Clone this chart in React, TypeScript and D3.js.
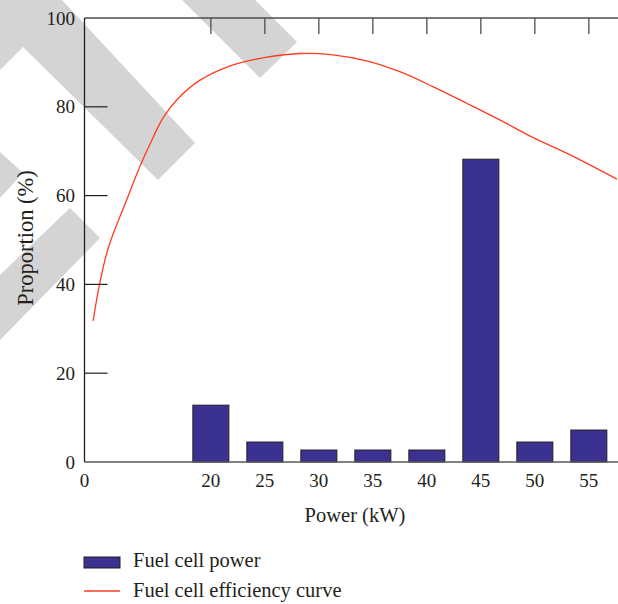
import React from "react";
import * as d3 from "d3";

// bar data: share of operating time at each power level
const powerLevels = [20, 25, 30, 35, 40, 45, 50, 55];
const powerShare = [12.8, 4.5, 2.7, 2.7, 2.7, 68.2, 4.5, 7.2];

// efficiency curve
const curvePower = [9.1, 9.7, 10.5, 12.2, 13.4, 14.4, 15.6, 16.9, 19.0, 22.0, 25.2, 28.3, 31.3, 34.5, 37.5, 40.6, 43.7, 46.8, 49.8, 53.0, 57.6];
const curveEff = [31.8, 40.1, 48.2, 59.0, 66.4, 71.8, 77.6, 81.7, 86.0, 89.4, 91.2, 92.0, 91.7, 90.3, 87.9, 84.5, 80.8, 77.0, 73.1, 69.5, 63.7];

const yTicks = [0, 20, 40, 60, 80, 100];

const W = 618;
const H = 604;
const left = 84.5;
const right = 618;
const top = 18;
const bottom = 462;

const font = "Liberation Serif";
const ink = "#231f20";

export default function App() {
  const x = d3.scaleLinear().domain([8.3, 57.7]).range([left, right]);
  const y = d3.scaleLinear().domain([0, 100]).range([bottom, top]);
  const halfBar = 1.667;

  const pts = curvePower.map((p, i) => [p, curveEff[i]] as [number, number]);
  const line = d3
    .line<[number, number]>()
    .x((d) => x(d[0]))
    .y((d) => y(d[1]))
    .curve(d3.curveCatmullRom.alpha(0.5));

  // watermark stripes behind the plot
  const marks = [
    "M0,0 L62,0 L195,143 L158,180 L23,47 L0,70 Z",
    "M182,0 L255,0 L297,42 L260,78 Z",
    "M70,208 L100,238 L0,340 L0,275 Z",
    "M0,152 L23,173 L0,198 Z",
  ];

  return (
    <svg
      width={W}
      height={H}
      style={{ position: "absolute", left: 0, top: 0, background: "#fff" }}
    >
      {marks.map((d, i) => (
        <path key={i} d={d} fill="#d4d4d4" />
      ))}

      {powerLevels.map((p, i) => (
        <rect
          key={p}
          x={x(p - halfBar)}
          y={y(powerShare[i])}
          width={x(p + halfBar) - x(p - halfBar)}
          height={y(0) - y(powerShare[i])}
          fill="#3a3190"
          stroke={ink}
          strokeWidth={1}
        />
      ))}

      <path d={line(pts) || ""} fill="none" stroke="#ff3b1f" strokeWidth={1.3} />

      {/* axes frame */}
      <line x1={left} x2={right} y1={bottom} y2={bottom} stroke="#58595b" strokeWidth={1.5} />
      <line x1={left} x2={right} y1={top} y2={top} stroke="#4d4d4f" strokeWidth={1.5} />
      <line x1={left} x2={left} y1={top} y2={bottom} stroke={ink} strokeWidth={1.3} />

      {/* top ticks */}
      {powerLevels.map((p) => (
        <line key={p} x1={x(p)} x2={x(p)} y1={top} y2={top + 16} stroke="#4d4d4f" strokeWidth={1.3} />
      ))}

      {/* y ticks */}
      {yTicks.map((t) => (
        <g key={t}>
          {t > 0 && t < 100 && (
            <line x1={left} x2={left + 23} y1={y(t)} y2={y(t)} stroke={ink} strokeWidth={1.2} />
          )}
          <text
            x={75}
            y={y(t)}
            dy="0.35em"
            textAnchor="end"
            fontFamily={font}
            fontSize={19}
            fill={ink}
          >
            {t}
          </text>
        </g>
      ))}

      {/* x tick labels */}
      <text x={left} y={487} textAnchor="middle" fontFamily={font} fontSize={19} fill={ink}>
        0
      </text>
      {powerLevels.map((p) => (
        <text key={p} x={x(p)} y={487} textAnchor="middle" fontFamily={font} fontSize={19} fill={ink}>
          {p}
        </text>
      ))}

      <text x={355} y={522} textAnchor="middle" fontFamily={font} fontSize={20.5} fill={ink}>
        Power (kW)
      </text>
      <text
        transform="translate(33,238) rotate(-90)"
        textAnchor="middle"
        fontFamily={font}
        fontSize={22.5}
        fill={ink}
      >
        Proportion (%)
      </text>

      {/* legend */}
      <rect x={84} y={557} width={36} height={11} fill="#3a3190" stroke={ink} strokeWidth={1} />
      <text x={133} y={567} fontFamily={font} fontSize={20.5} fill={ink}>
        Fuel cell power
      </text>
      <line x1={84} x2={120} y1={591} y2={591} stroke="#ff3b1f" strokeWidth={1.3} />
      <text x={133} y={597} fontFamily={font} fontSize={20.5} fill={ink}>
        Fuel cell efficiency curve
      </text>
    </svg>
  );
}
